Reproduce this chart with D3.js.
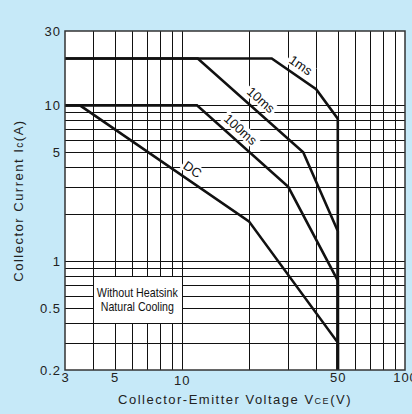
<!DOCTYPE html>
<html>
<head>
<meta charset="utf-8">
<script src="https://cdn.jsdelivr.net/npm/d3@7"></script>
<style>
  html, body { margin: 0; padding: 0; background: #c6e9f8; }
  svg { display: block; font-family: Arial, "Liberation Sans", sans-serif; }
  .tick text { fill: #222; font-size: 13px; letter-spacing: 1px; }
  .grid line { stroke: #111; stroke-width: 1; }
  .curve { fill: none; stroke: #111; stroke-width: 2.6; stroke-linejoin: miter; }
</style>
</head>
<body>
<script>
// axis ticks
const xTicks = [3, 5, 10, 50, 100]
const yTicks = [0.2, 0.5, 1, 5, 10, 30]
const xGrid = [4, 5, 6, 7, 8, 9, 10, 20, 30, 40, 50, 60, 70, 80, 90]
const yGrid = [0.3, 0.4, 0.5, 0.6, 0.7, 0.8, 0.9, 1, 2, 3, 4, 5, 6, 7, 8, 9, 10]

// safe operating area curves, VCE (V) / IC (A)
const names = ['1ms', '10ms', '100ms', 'DC']
const v1ms = [3, 25.3, 40, 50, 50]
const i1ms = [20, 20, 12.7, 8.2, 0.2]
const v10ms = [3, 11.8, 35, 50, 50]
const i10ms = [20, 20, 5, 1.56, 0.2]
const v100ms = [3, 11.7, 30, 50, 50]
const i100ms = [10, 10, 3, 0.75, 0.2]
const vDC = [3, 3.5, 20, 50, 50]
const iDC = [10, 10, 1.8, 0.3, 0.2]
// where each label sits along its curve (V)
const labelV = [32, 21, 17, 10.5]

const noteLines = ['Without Heatsink', 'Natural Cooling']

const W = 412, H = 414
const margin = { top: 31, right: 7, bottom: 44, left: 65 }

const svg = d3.select('body').append('svg')
  .attr('width', W)
  .attr('height', H)

const x = d3.scaleLog().domain([3, 100]).range([margin.left, W - margin.right])
const y = d3.scaleLog().domain([0.2, 30]).range([H - margin.bottom, margin.top])
const crisp = v => Math.round(v) + 0.5

svg.append('rect')
  .attr('x', x(3)).attr('y', y(30))
  .attr('width', x(100) - x(3)).attr('height', y(0.2) - y(30))
  .attr('fill', '#fff')

// grid
const grid = svg.append('g').attr('class', 'grid')
grid.selectAll('.vx').data(xGrid).enter().append('line')
  .attr('x1', d => crisp(x(d))).attr('x2', d => crisp(x(d)))
  .attr('y1', y(30)).attr('y2', y(0.2))
  .attr('stroke-width', d => (d === 6 || d === 60) ? 2 : 1)
grid.selectAll('.hy').data(yGrid).enter().append('line')
  .attr('y1', d => crisp(y(d))).attr('y2', d => crisp(y(d)))
  .attr('x1', x(3)).attr('x2', x(100))

// note box
const note = svg.append('g')
note.append('rect')
  .attr('x', crisp(x(4))).attr('y', crisp(y(0.8)))
  .attr('width', Math.round(x(10)) - Math.round(x(4)))
  .attr('height', Math.round(y(0.4)) - Math.round(y(0.8)))
  .attr('fill', '#fff').attr('stroke', '#111').attr('stroke-width', 1)
const noteCx = (x(4) + x(10)) / 2
const noteCy = (y(0.8) + y(0.4)) / 2
note.selectAll('text').data(noteLines).enter().append('text')
  .attr('x', noteCx)
  .attr('y', (d, i) => noteCy - 3 + i * 14)
  .attr('text-anchor', 'middle')
  .attr('font-family', '"Liberation Sans Narrow", "Arial Narrow", Arial, sans-serif')
  .attr('font-size', 13.5)
  .attr('fill', '#111')
  .attr('textLength', (d, i) => i === 0 ? 81 : 73)
  .attr('lengthAdjust', 'spacingAndGlyphs')
  .text(d => d)

// curves
const series = [
  { name: names[0], v: v1ms, i: i1ms },
  { name: names[1], v: v10ms, i: i10ms },
  { name: names[2], v: v100ms, i: i100ms },
  { name: names[3], v: vDC, i: iDC }
]
series.forEach(s => { s.pts = s.v.map((v, k) => [v, s.i[k]]) })

const line = d3.line()
  .x(d => x(d[0]))
  .y(d => y(d[1]))

svg.selectAll('.curve').data(series).enter().append('path')
  .attr('class', 'curve')
  .attr('d', d => line(d.pts))

// labels along the curves
const gap = 11
series.forEach((s, k) => {
  const lv = labelV[k]
  let j = 0
  while (j < s.pts.length - 2 && s.pts[j + 1][0] < lv) j++
  const a = s.pts[j], b = s.pts[j + 1]
  const x0 = x(a[0]), y0 = y(a[1]), x1 = x(b[0]), y1 = y(b[1])
  const t = (x(lv) - x0) / (x1 - x0)
  const px = x0 + t * (x1 - x0), py = y0 + t * (y1 - y0)
  const dx = x1 - x0, dy = y1 - y0, len = Math.hypot(dx, dy)
  const cx = px + gap * dy / len, cy = py - gap * dx / len
  const ang = Math.atan2(dy, dx) * 180 / Math.PI
  const g = svg.append('g').attr('transform', `translate(${cx},${cy}) rotate(${ang})`)
  const txt = g.append('text')
    .attr('text-anchor', 'middle')
    .attr('dy', '0.35em')
    .attr('font-size', 13)
    .attr('fill', '#111')
    .text(s.name)
  const bb = txt.node().getBBox()
  g.insert('rect', 'text')
    .attr('x', bb.x - 2).attr('y', bb.y + 1)
    .attr('width', bb.width + 4).attr('height', bb.height - 2)
    .attr('fill', '#fff')
})

// frame
svg.append('rect')
  .attr('x', x(3)).attr('y', y(30))
  .attr('width', x(100) - x(3)).attr('height', y(0.2) - y(30))
  .attr('fill', 'none').attr('stroke', '#333').attr('stroke-width', 1.5)

// axes
const xAxis = d3.axisBottom(x).tickValues(xTicks).tickFormat(d => d).tickSize(0).tickPadding(3)
const yAxis = d3.axisLeft(y).tickValues(yTicks).tickFormat(d => d).tickSize(0).tickPadding(4)

svg.append('g')
  .attr('transform', `translate(0,${y(0.2)})`)
  .call(xAxis)
  .call(g => g.select('.domain').remove())
  .selectAll('text')
  .attr('font-family', null).attr('font-size', null)
  .attr('y', d => d === 10 ? 6 : 3)

svg.append('g')
  .attr('transform', `translate(${x(3)},0)`)
  .call(yAxis)
  .call(g => g.select('.domain').remove())
  .selectAll('text').attr('font-family', null).attr('font-size', null)

// axis titles
const xt = svg.append('text')
  .attr('x', (x(3) + x(100)) / 2 + 0)
  .attr('y', 404)
  .attr('text-anchor', 'middle')
  .attr('font-size', 13)
  .attr('letter-spacing', 1.5)
  .attr('fill', '#222')
xt.append('tspan').text('Collector-Emitter Voltage V')
xt.append('tspan').attr('font-size', 9).text('CE')
xt.append('tspan').text('(V)')

const yt = svg.append('text')
  .attr('transform', `translate(23,${(y(0.2) + y(30)) / 2}) rotate(-90)`)
  .attr('text-anchor', 'middle')
  .attr('font-size', 13)
  .attr('letter-spacing', 1.5)
  .attr('fill', '#222')
yt.append('tspan').text('Collector Current I')
yt.append('tspan').attr('font-size', 10).text('c')
yt.append('tspan').text('(A)')
</script>
</body>
</html>
